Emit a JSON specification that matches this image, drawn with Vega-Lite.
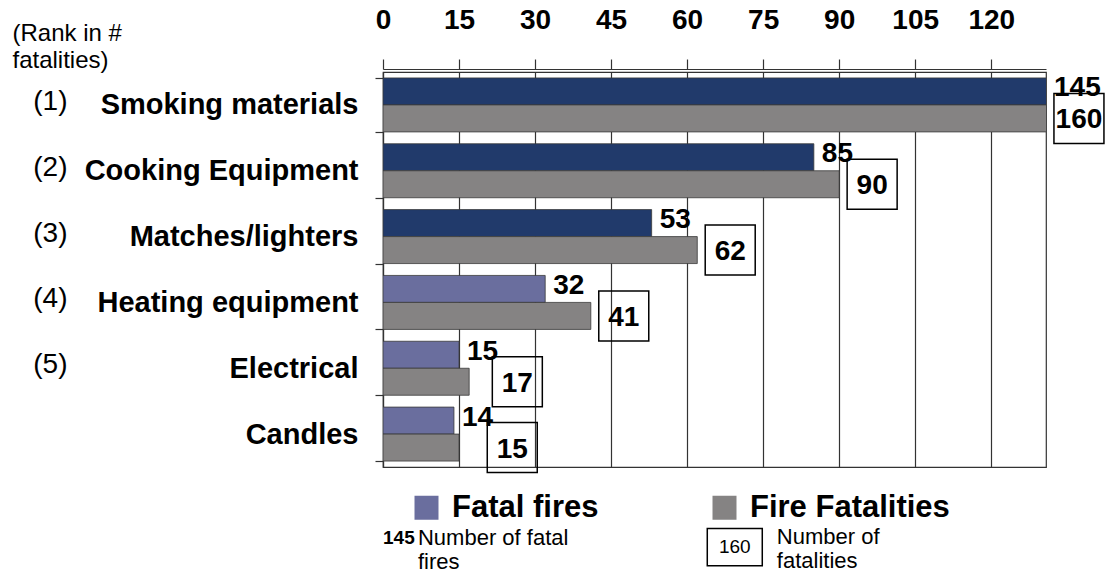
{
  "$schema": "https://vega.github.io/schema/vega-lite/v6.json",
  "width": 663,
  "height": 395,
  "autosize": {"type": "none"},
  "padding": {"left": 383, "top": 72, "right": 62, "bottom": 108},
  "background": "white",
  "config": {
    "font": "Liberation Sans",
    "view": {"stroke": "#333", "strokeWidth": 1.2}
  },
  "data": {
    "values": [
      {"rank": "(1)", "cause": "Smoking materials", "Fatal fires": 145, "Fire Fatalities": 160},
      {"rank": "(2)", "cause": "Cooking Equipment", "Fatal fires": 85, "Fire Fatalities": 90},
      {"rank": "(3)", "cause": "Matches/lighters", "Fatal fires": 53, "Fire Fatalities": 62},
      {"rank": "(4)", "cause": "Heating equipment", "Fatal fires": 32, "Fire Fatalities": 41},
      {"rank": "(5)", "cause": "Electrical", "Fatal fires": 15, "Fire Fatalities": 17},
      {"rank": "", "cause": "Candles", "Fatal fires": 14, "Fire Fatalities": 15}
    ]
  },
  "transform": [
    {"calculate": "datum.rank + '|' + datum.cause", "as": "key"},
    {"fold": ["Fatal fires", "Fire Fatalities"], "as": ["series", "value"]}
  ],
  "resolve": {"axis": {"y": "independent"}},
  "layer": [
    {
      "mark": {"type": "bar", "clip": true, "stroke": "#3a3a3a", "strokeWidth": 0.8},
      "encoding": {
        "y": {
          "field": "key", "type": "nominal", "sort": null,
          "scale": {"paddingInner": 0.18, "paddingOuter": 0.09},
          "axis": {
            "title": null,
            "labelExpr": "split(datum.label, '|')[1]",
            "labelFontSize": 29, "labelFontWeight": "bold", "labelColor": "black",
            "labelPadding": 17, "labelLimit": 400,
            "tickBand": "extent", "tickSize": 8, "tickColor": "#333", "tickWidth": 1.2,
            "domainColor": "#333", "domainWidth": 1.2, "grid": false
          }
        },
        "yOffset": {
          "field": "series", "type": "nominal",
          "scale": {"domain": ["Fatal fires", "Fire Fatalities"], "paddingInner": 0, "paddingOuter": 0}
        },
        "x": {
          "field": "value", "type": "quantitative", "title": null,
          "scale": {"domain": [0, 130.8], "nice": false},
          "axis": {
            "orient": "top", "values": [0, 15, 30, 45, 60, 75, 90, 105, 120],
            "offset": 3,
            "labelFontSize": 28, "labelFontWeight": "bold", "labelColor": "black",
            "labelPadding": 25, "labelFlush": false,
            "tickSize": 10, "tickColor": "#333", "tickWidth": 1.2,
            "domainColor": "#333", "domainWidth": 1.2,
            "grid": true, "gridColor": "#333", "gridWidth": 1.2, "gridOpacity": 1
          }
        },
        "color": {
          "condition": {"test": "datum.series == 'Fatal fires' && indexof(['(1)','(2)','(3)'], datum.rank) >= 0", "value": "#213a6b"},
          "field": "series", "type": "nominal",
          "scale": {"domain": ["Fatal fires", "Fire Fatalities"], "range": ["#6a6e9e", "#858383"]},
          "legend": {
            "orient": "none", "legendX": 28, "legendY": 420,
            "direction": "horizontal", "title": null,
            "symbolType": "square", "symbolSize": 576, "symbolStrokeWidth": 0, "symbolOpacity": 1,
            "labelFontSize": 31, "labelFontWeight": "bold", "labelColor": "black",
            "labelOffset": 10, "columnPadding": 110, "labelLimit": 400
          }
        },
        "opacity": {"value": 1}
      }
    },
    {
      "transform": [
        {"filter": "datum.series == 'Fatal fires'"},
        {"calculate": "min(datum.value, 130.8)", "as": "lx"}
      ],
      "mark": {"type": "text", "align": "left", "baseline": "middle", "dx": 8, "dy": -3, "fontSize": 28, "fontWeight": "bold", "color": "black"},
      "encoding": {
        "y": {"field": "key", "type": "nominal", "sort": null, "axis": null},
        "yOffset": {"field": "series", "type": "nominal"},
        "x": {"field": "lx", "type": "quantitative", "title": null},
        "text": {"field": "value", "type": "quantitative"}
      }
    },
    {
      "transform": [
        {"filter": "datum.series == 'Fire Fatalities'"},
        {"calculate": "min(max(datum['Fire Fatalities'], datum['Fatal fires'] + 5), 130.8) + 6.5", "as": "bx"}
      ],
      "mark": {"type": "point", "shape": "square", "size": 2500, "filled": false, "stroke": "black", "strokeWidth": 1.5, "opacity": 1},
      "encoding": {
        "y": {"field": "key", "type": "nominal", "sort": null, "axis": null},
        "yOffset": {"field": "series", "type": "nominal"},
        "x": {"field": "bx", "type": "quantitative", "title": null}
      }
    },
    {
      "transform": [
        {"filter": "datum.series == 'Fire Fatalities'"},
        {"calculate": "min(max(datum['Fire Fatalities'], datum['Fatal fires'] + 5), 130.8) + 6.5", "as": "bx"}
      ],
      "mark": {"type": "text", "align": "center", "baseline": "middle", "dy": 2, "fontSize": 28, "fontWeight": "bold", "color": "black"},
      "encoding": {
        "y": {
          "field": "key", "type": "nominal", "sort": null,
          "axis": {
            "orient": "left", "offset": 316,
            "ticks": false, "domain": false, "grid": false,
            "labelExpr": "split(datum.label, '|')[0]",
            "labelFontSize": 28, "labelFontWeight": "normal", "labelColor": "black",
            "labelPadding": 0, "labelOffset": -3,
            "title": ["(Rank in #", "\u00a0fatalities)"],
            "titleAngle": 0, "titleAlign": "left", "titleBaseline": "top",
            "titleX": -55, "titleY": -51,
            "titleFontSize": 24, "titleFontWeight": "normal", "titleColor": "black", "titleLineHeight": 27
          }
        },
        "yOffset": {"field": "series", "type": "nominal"},
        "x": {"field": "bx", "type": "quantitative", "title": null},
        "text": {"field": "value", "type": "quantitative"}
      }
    },
    {
      "data": {"values": [{}]},
      "mark": {"type": "text", "text": "145", "align": "left", "baseline": "alphabetic", "dy": 110, "fontSize": 19, "fontWeight": "bold", "color": "black"},
      "encoding": {
        "x": {"datum": 0, "type": "quantitative"},
        "y": {"datum": "|Candles", "type": "nominal", "axis": null}
      }
    },
    {
      "data": {"values": [{}]},
      "mark": {"type": "text", "text": ["Number of fatal", "fires"], "align": "left", "baseline": "alphabetic", "dy": 111, "fontSize": 22, "lineHeight": 24, "color": "black"},
      "encoding": {
        "x": {"datum": 6.9, "type": "quantitative"},
        "y": {"datum": "|Candles", "type": "nominal", "axis": null}
      }
    },
    {
      "data": {"values": [{}]},
      "mark": {"type": "point", "shape": "M-1,-0.68H1V0.68H-1Z", "size": 3025, "filled": false, "stroke": "black", "strokeWidth": 1.5, "opacity": 1, "yOffset": 113},
      "encoding": {
        "x": {"datum": 69.4, "type": "quantitative"},
        "y": {"datum": "|Candles", "type": "nominal", "axis": null}
      }
    },
    {
      "data": {"values": [{}]},
      "mark": {"type": "text", "text": "160", "align": "center", "baseline": "middle", "dy": 113, "fontSize": 19, "color": "black"},
      "encoding": {
        "x": {"datum": 69.4, "type": "quantitative"},
        "y": {"datum": "|Candles", "type": "nominal", "axis": null}
      }
    },
    {
      "data": {"values": [{}]},
      "mark": {"type": "text", "text": ["Number of", "fatalities"], "align": "left", "baseline": "alphabetic", "dy": 110, "fontSize": 22, "lineHeight": 24, "color": "black"},
      "encoding": {
        "x": {"datum": 77.7, "type": "quantitative"},
        "y": {"datum": "|Candles", "type": "nominal", "axis": null}
      }
    }
  ]
}
